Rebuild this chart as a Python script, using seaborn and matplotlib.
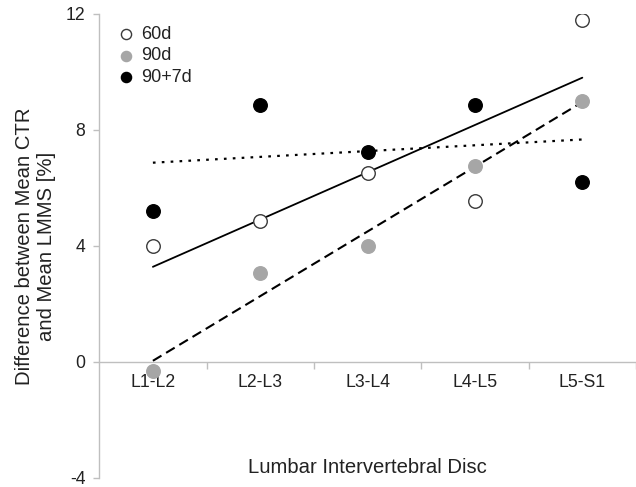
import numpy as np
import pandas as pd
import matplotlib
matplotlib.use('Agg')
import matplotlib.pyplot as plt
import seaborn as sns

# values
discs = ['L1-L2', 'L2-L3', 'L3-L4', 'L4-L5', 'L5-S1']
groups = ['60d', '90d', '90+7d']
diff_60d = [4.0, 4.85, 6.5, 5.55, 11.8]
diff_90d = [-0.3, 3.05, 4.0, 6.75, 9.0]
diff_90_7d = [5.2, 8.85, 7.25, 8.85, 6.2]
y_ticks = [-4, 0, 4, 8, 12]

df = pd.DataFrame({
    'disc': discs * 3,
    'group': np.repeat(groups, len(discs)),
    'diff': diff_60d + diff_90d + diff_90_7d,
})
df['pos'] = df['disc'].map({d: i + 1 for i, d in enumerate(discs)})

sns.set_style('white')
plt.rcParams['font.family'] = ['Liberation Sans', 'DejaVu Sans']
plt.rcParams['axes.unicode_minus'] = False
text_col = '#222222'
axis_col = '#bfbfbf'

fig = plt.figure(figsize=(6.36, 4.87), dpi=100)
ax = fig.add_axes([0.156, 0.0185, 0.844, 0.953])

# marker look and trend-line style for each group
face = {'60d': 'white', '90d': '#a6a6a6', '90+7d': 'black'}
edge = {'60d': '#3a3a3a', '90d': '#a6a6a6', '90+7d': 'black'}
line_style = {'60d': dict(ls='-', lw=1.3),
              '90d': dict(ls=(0, (4.8, 2.6)), lw=1.5),
              '90+7d': dict(ls=(0, (1.2, 2.8)), lw=1.6)}

for g in groups:
    sub = df[df['group'] == g]
    sns.regplot(data=sub, x='pos', y='diff', scatter=False, ci=None, truncate=True,
                line_kws=dict(color='black', **line_style[g]), ax=ax)
for g in groups:
    sub = df[df['group'] == g]
    sns.scatterplot(data=sub, x='pos', y='diff', s=95, color=face[g], edgecolor=edge[g],
                    linewidth=1.0, label=g, zorder=3, ax=ax)

ax.set_xlim(0.5, 5.45)
ax.set_ylim(-4, 12)
ax.set_yticks(y_ticks)
ax.set_xticks(range(1, len(discs) + 1))
ax.set_xticklabels(discs)
ax.set_xticks([1.5, 2.5, 3.5, 4.5, 5.5], minor=True)

for s in ['top', 'right']:
    ax.spines[s].set_visible(False)
for s in ['left', 'bottom']:
    ax.spines[s].set_color(axis_col)
    ax.spines[s].set_linewidth(1.0)
ax.spines['bottom'].set_position(('data', 0))

ax.tick_params(axis='x', which='major', bottom=True, length=0, pad=9, labelsize=12.7, labelcolor=text_col)
ax.tick_params(axis='x', which='minor', bottom=True, length=5, width=1, color=axis_col)
ax.tick_params(axis='y', left=True, length=4, width=1, color=axis_col, pad=6,
               labelsize=12.7, labelcolor=text_col)

ax.set_xlabel('Lumbar Intervertebral Disc', fontsize=14.6, color=text_col)
ax.xaxis.set_label_coords(0.5, 0.043)
ax.set_ylabel('Difference between Mean CTR\nand Mean LMMS [%]', fontsize=14.6, color=text_col)
ax.yaxis.set_label_coords(-0.08, 0.5)

ax.legend(loc='upper left', bbox_to_anchor=(0.02, 0.99), frameon=False, fontsize=13,
          handlelength=1.0, handletextpad=0.3, labelspacing=0.25, markerscale=0.75,
          borderaxespad=0, labelcolor=text_col)

fig.savefig('out.png', dpi=100)
